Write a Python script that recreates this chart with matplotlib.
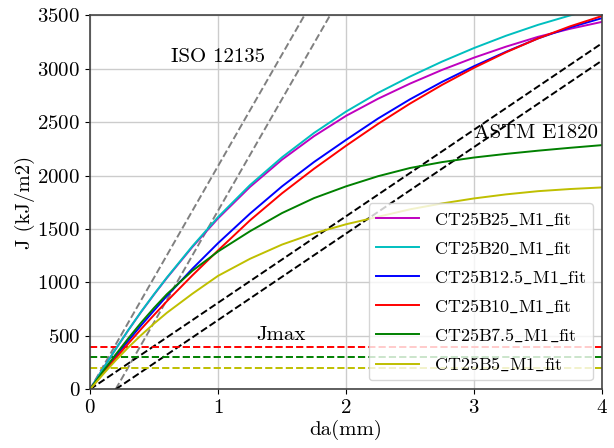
import numpy as np
import matplotlib
matplotlib.use("Agg")
import matplotlib.pyplot as plt

plt.rcParams['font.family'] = 'serif'
plt.rcParams['font.serif'] = ['cmr10']
plt.rcParams['mathtext.fontset'] = 'cm'
plt.rcParams['axes.formatter.use_mathtext'] = True

# ---- data ----
da = [0, 0.1, 0.2, 0.3, 0.4, 0.5, 0.6, 0.8, 1.0, 1.25, 1.5, 1.75,
      2.0, 2.25, 2.5, 2.75, 3.0, 3.25, 3.5, 3.75, 4.0]
J_B25 = [0, 190, 375, 555, 726, 887, 1042, 1333, 1600, 1895, 2150, 2370,
         2560, 2720, 2862, 2990, 3105, 3208, 3300, 3375, 3440]
J_B20 = [0, 190, 376, 556, 728, 890, 1046, 1340, 1612, 1912, 2172, 2400,
         2600, 2775, 2928, 3068, 3195, 3310, 3412, 3500, 3580]
J_B125 = [0, 156, 308, 456, 600, 738, 873, 1129, 1368, 1645, 1900, 2128,
          2335, 2535, 2715, 2878, 3025, 3160, 3285, 3388, 3475]
J_B10 = [0, 147, 290, 429, 565, 696, 824, 1067, 1300, 1582, 1835, 2065,
         2280, 2485, 2675, 2850, 3010, 3155, 3285, 3398, 3495]
J_B75 = [0, 165, 325, 478, 625, 762, 890, 1110, 1290, 1480, 1650, 1790,
         1900, 1995, 2072, 2127, 2170, 2204, 2234, 2261, 2286]
J_B5 = [0, 138, 270, 393, 508, 615, 716, 895, 1062, 1222, 1355, 1460,
        1545, 1615, 1685, 1740, 1787, 1825, 1855, 1875, 1890]

labels = ['CT25B25_M1_fit', 'CT25B20_M1_fit', 'CT25B12.5_M1_fit',
          'CT25B10_M1_fit', 'CT25B7.5_M1_fit', 'CT25B5_M1_fit']
colors = ['m', 'c', 'b', 'r', 'g', 'y']
series = [J_B25, J_B20, J_B125, J_B10, J_B75, J_B5]

jmax_values = [400, 300, 200]
jmax_colors = ['r', 'g', 'y']

iso_slope = 2090
iso_offsets = [0.0, 0.2]
astm_slope = 810
astm_offsets = [0.0, 0.2]

xlim = (0, 4)
ylim = (0, 3500)

fig = plt.figure(figsize=(6.14, 4.48), dpi=100)
ax = fig.add_axes([0.1466, 0.131, 0.8339, 0.8345])

x_line = np.array([0.0, 4.0])
for off in iso_offsets:
    ax.plot(x_line + off, iso_slope * x_line, '--', color='gray', lw=1.4)
for off in astm_offsets:
    ax.plot(x_line + off, astm_slope * x_line, '--', color='k', lw=1.4)

for J, c in zip(jmax_values, jmax_colors):
    ax.plot([0, 4], [J, J], '--', color=c, lw=1.4)

for J, c, lab in zip(series, colors, labels):
    mlab = r'$\mathrm{' + lab.replace('_', r'\_') + '}$'
    ax.plot(da, J, '-', color=c, lw=1.4, label=mlab)

ax.text(0.63, 3110, 'ISO 12135', fontsize=15, va='center', ha='left')
ax.text(3.0, 2400, 'ASTM E1820', fontsize=15, va='center', ha='left')
ax.text(1.3, 505, 'Jmax', fontsize=15, va='center', ha='left')

ax.set_xlim(*xlim)
ax.set_ylim(*ylim)
ax.set_xticks([0, 1, 2, 3, 4])
ax.set_yticks(np.arange(0, 3501, 500))
ax.tick_params(labelsize=15)
ax.grid(True, color='#cccccc', lw=1.0)
ax.set_axisbelow(True)
for s in ax.spines.values():
    s.set_color('#444444')
    s.set_linewidth(1.2)
ax.set_xlabel('da(mm)', fontsize=15, labelpad=2)
ax.set_ylabel('J (kJ/m2)', fontsize=15, labelpad=2)

ax.legend(loc='lower right', fontsize=13, handlelength=2.4, labelspacing=0.65)

fig.savefig('out.png', dpi=100)
